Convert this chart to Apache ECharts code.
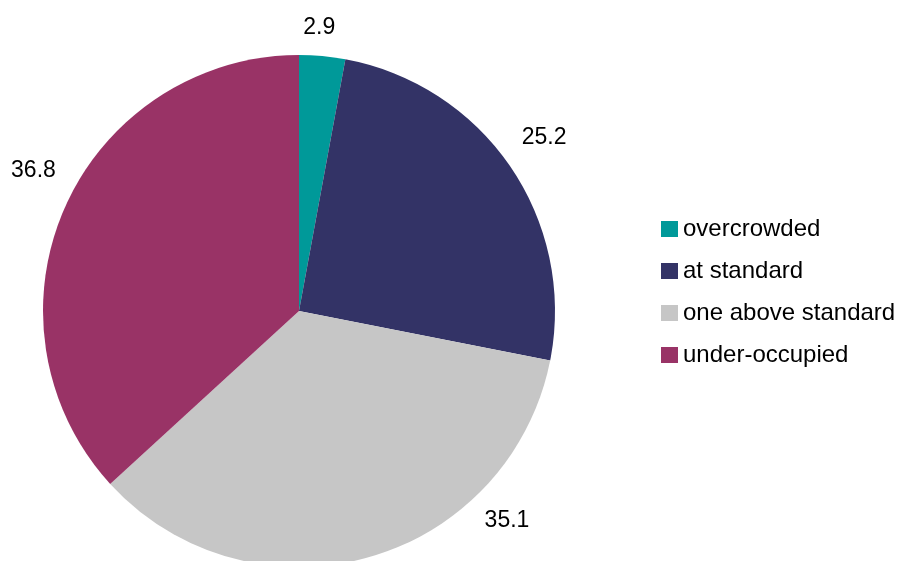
<!DOCTYPE html>
<html>
<head>
<meta charset="utf-8">
<script src="https://cdn.jsdelivr.net/npm/echarts@6/dist/echarts.min.js"></script>
<style>
  html, body { margin: 0; padding: 0; background: #ffffff; }
  #chart { width: 902px; height: 561px; }
</style>
</head>
<body>
<div id="chart"></div>
<script>
// Occupancy rating shares (%)
var categories = ['overcrowded', 'at standard', 'one above standard', 'under-occupied'];
var values = [2.9, 25.2, 35.1, 36.8];
var colors = ['#009999', '#333366', '#C6C6C6', '#993366'];

// Small nudges for the value labels so they sit clear of the pie and inside the canvas
var labelNudges = [[-7, 15], [-3, -5], [127, -79], [9, -19]];

var chart = echarts.init(document.getElementById('chart'), null, { renderer: 'canvas' });

var sliceData = categories.map(function (name, i) {
  return { name: name, value: values[i], itemStyle: { color: colors[i] } };
});

// Transparent ring sharing the same values, used only to place the value labels
var labelData = categories.map(function (name, i) {
  return { name: name, value: values[i] };
});

var font = 'Liberation Sans, Arial, sans-serif';

chart.setOption({
  animation: false,
  backgroundColor: '#ffffff',
  legend: {
    orient: 'vertical',
    left: 656,
    top: 212,
    itemWidth: 17,
    itemHeight: 16,
    itemGap: 18,
    icon: 'rect',
    selectedMode: false,
    textStyle: { fontFamily: font, fontSize: 24, color: '#000000', lineHeight: 24 },
    data: categories
  },
  series: [
    {
      type: 'pie',
      center: [299, 311],
      radius: [0, 256],
      startAngle: 90,
      clockwise: true,
      silent: true,
      label: { show: false },
      labelLine: { show: false },
      itemStyle: { borderWidth: 0 },
      data: sliceData
    },
    {
      type: 'pie',
      center: [299, 311],
      radius: [282, 312],
      startAngle: 90,
      clockwise: true,
      silent: true,
      legendHoverLink: false,
      itemStyle: { color: 'rgba(0,0,0,0)', borderWidth: 0 },
      label: {
        show: true,
        position: 'inside',
        formatter: function (p) { return p.value.toFixed(1); },
        fontFamily: font,
        fontSize: 23,
        color: '#000000'
      },
      labelLine: { show: false },
      labelLayout: function (p) {
        var n = labelNudges[p.dataIndex];
        return { dx: n[0], dy: n[1] };
      },
      data: labelData
    }
  ]
});
</script>
</body>
</html>
